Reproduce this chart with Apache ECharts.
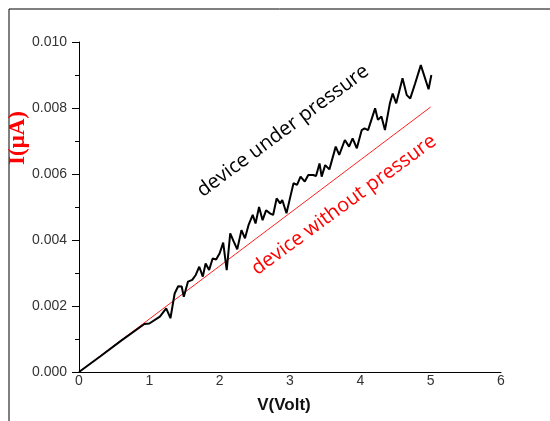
<!DOCTYPE html>
<html><head><meta charset="utf-8">
<script src="https://cdn.jsdelivr.net/npm/echarts@6/dist/echarts.min.js"></script>
<style>html,body{margin:0;padding:0;background:#fff}#c{width:550px;height:421px}</style>
</head><body><div id="c"></div>
<script>
// Device under pressure (black, noisy)
const vUnder = [0, 0.3, 0.6, 0.93, 1.0, 1.15, 1.24, 1.3, 1.36, 1.41, 1.46, 1.49, 1.55, 1.61, 1.66, 1.71, 1.76, 1.80, 1.85, 1.90, 1.95, 2.0, 2.05, 2.10, 2.15, 2.20, 2.25, 2.31, 2.36, 2.41, 2.47, 2.51, 2.56, 2.61, 2.66, 2.72, 2.76, 2.81, 2.86, 2.89, 2.95, 3.01, 3.05, 3.10, 3.15, 3.21, 3.26, 3.33, 3.37, 3.42, 3.45, 3.50, 3.56, 3.65, 3.70, 3.78, 3.84, 3.89, 3.95, 4.02, 4.06, 4.11, 4.21, 4.25, 4.30, 4.35, 4.42, 4.46, 4.51, 4.60, 4.66, 4.71, 4.78, 4.86, 4.97, 5.01];
const iUnder = [0, 0.00047, 0.00095, 0.001455, 0.00147, 0.00168, 0.00193, 0.00163, 0.00238, 0.0026, 0.00259, 0.00228, 0.00274, 0.00279, 0.00294, 0.00319, 0.00289, 0.00329, 0.00309, 0.00344, 0.00341, 0.0036, 0.00392, 0.00309, 0.0042, 0.00395, 0.00372, 0.0043, 0.00405, 0.00445, 0.00476, 0.0045, 0.005, 0.0046, 0.0049, 0.0048, 0.00476, 0.00526, 0.00511, 0.00521, 0.00481, 0.00536, 0.00572, 0.00567, 0.00592, 0.00577, 0.00597, 0.00597, 0.00594, 0.00632, 0.00592, 0.00627, 0.00614, 0.00683, 0.00658, 0.00703, 0.00683, 0.00708, 0.00678, 0.00733, 0.00738, 0.00733, 0.00799, 0.00764, 0.00774, 0.00733, 0.00814, 0.00844, 0.00814, 0.0089, 0.00839, 0.00829, 0.00875, 0.0093, 0.00857, 0.009];
// Device without pressure (red, linear)
const vWithout = [0, 5.0];
const iWithout = [0, 0.00803];
// Axis ticks
const xTicks = [0, 1, 2, 3, 4, 5, 6];
const yTicks = ['0.000', '0.002', '0.004', '0.006', '0.008', '0.010'];

const zip = (a, b) => a.map((v, k) => [v, b[k]]);
const chart = echarts.init(document.getElementById('c'), null, {renderer: 'canvas'});
chart.setOption({
  animation: false,
  grid: {left: 79, right: 49, top: 42, bottom: 49, containLabel: false, outerBoundsMode: 'none'},
  xAxis: {
    type: 'value', min: xTicks[0], max: xTicks[xTicks.length - 1], interval: 1,
    name: 'V(Volt)', nameLocation: 'middle', nameGap: 25,
    nameTextStyle: {fontFamily: 'Liberation Sans', fontWeight: 'bold', fontSize: 17, color: '#111', padding: [0, 12, 0, 0]},
    axisLine: {show: true, onZero: false, lineStyle: {color: '#000', width: 1}},
    axisTick: {show: false},
    axisLabel: {margin: 2, fontFamily: 'Liberation Sans', fontSize: 14, color: '#333'},
    splitLine: {show: false}
  },
  yAxis: {
    type: 'value', min: 0, max: 0.010, interval: 0.002,
    axisLine: {show: true, lineStyle: {color: '#000', width: 1}},
    axisTick: {show: true, inside: false, length: 7, lineStyle: {color: '#000'}},
    minorTick: {show: true, splitNumber: 2, length: 4, lineStyle: {color: '#000'}},
    axisLabel: {margin: 12, fontFamily: 'Liberation Sans', fontSize: 14, color: '#333',
      formatter: v => yTicks[Math.round(v / 0.002)]},
    splitLine: {show: false}
  },
  graphic: [
    {type: 'polyline', silent: true, shape: {points: [[9, 421], [9, 9], [550, 9]]}, style: {stroke: '#000', lineWidth: 1, fill: null}},
    {type: 'text', x: 18, y: 138, rotation: Math.PI / 2,
      style: {text: 'I(μA)', fontFamily: 'Liberation Serif', fontWeight: 'bold', fontSize: 23, fill: '#ff0000', align: 'center', verticalAlign: 'middle'}},
    {type: 'text', x: 283, y: 131, rotation: 36.5 * Math.PI / 180,
      style: {text: 'device under pressure', fontFamily: 'Open Sans', fontSize: 20, fill: '#000', align: 'center', verticalAlign: 'middle'}},
    {type: 'text', x: 344, y: 205, rotation: 36.2 * Math.PI / 180,
      style: {text: 'device without pressure', fontFamily: 'Open Sans', fontSize: 20, fill: '#ff0000', align: 'center', verticalAlign: 'middle'}}
  ],
  series: [
    {type: 'line', data: zip(vWithout, iWithout), symbol: 'none', lineStyle: {color: '#ff2020', width: 1}, z: 2},
    {type: 'line', data: zip(vUnder, iUnder), symbol: 'none', lineStyle: {color: '#000', width: 2}, z: 3}
  ]
});
</script></body></html>
